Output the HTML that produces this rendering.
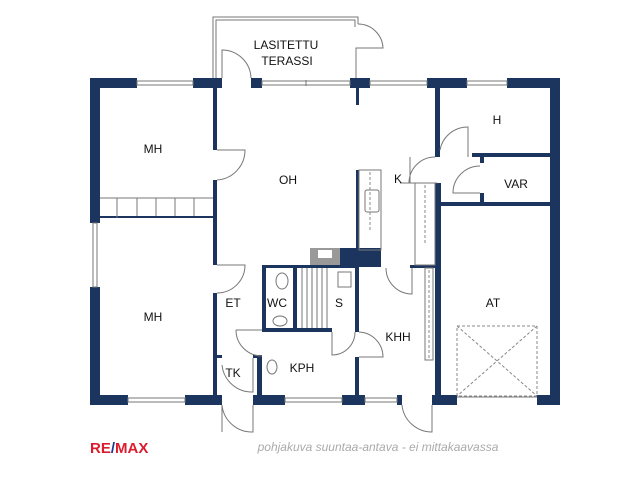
<!DOCTYPE html>
<html><head><style>body{margin:0;background:#fff}svg{display:block}</style></head><body>
<svg width="640" height="480" viewBox="0 0 640 480" xmlns="http://www.w3.org/2000/svg" font-family="Liberation Sans, sans-serif">
<g fill="#1b355f">
<rect x="90" y="78" width="47" height="10"/>
<rect x="193" y="78" width="29" height="10"/>
<rect x="251" y="78" width="11" height="10"/>
<rect x="350" y="78" width="20" height="10"/>
<rect x="427" y="78" width="40" height="10"/>
<rect x="507" y="78" width="53" height="10"/>
<rect x="90" y="78" width="10" height="145"/>
<rect x="90" y="287" width="10" height="118"/>
<rect x="550" y="78" width="10" height="327"/>
<rect x="90" y="395" width="38" height="10"/>
<rect x="185" y="395" width="37" height="10"/>
<rect x="253" y="395" width="32" height="10"/>
<rect x="342" y="395" width="23" height="10"/>
<rect x="397" y="395" width="5" height="10"/>
<rect x="432" y="395" width="25" height="10"/>
<rect x="537" y="395" width="23" height="10"/>
<rect x="213" y="88" width="4" height="62"/>
<rect x="213" y="180" width="4" height="85"/>
<rect x="213" y="293" width="4" height="102"/>
<rect x="356" y="88" width="3" height="17"/>
<rect x="435" y="88" width="5" height="69"/>
<rect x="435" y="183" width="6" height="212"/>
<rect x="472" y="153" width="78" height="4"/>
<rect x="480" y="153" width="4" height="10"/>
<rect x="480" y="193" width="4" height="10"/>
<rect x="440" y="202" width="110" height="4"/>
<rect x="356" y="170" width="3" height="80"/>
<rect x="340" y="248" width="41" height="19"/>
<rect x="262" y="265" width="95" height="3"/>
<rect x="262" y="265" width="4" height="67"/>
<rect x="293" y="265" width="4" height="67"/>
<rect x="262" y="328" width="70" height="4"/>
<rect x="355" y="265" width="4" height="67"/>
<rect x="355" y="357" width="4" height="38"/>
<rect x="410" y="265" width="30" height="3"/>
<rect x="213" y="355" width="9" height="3"/>
<rect x="253" y="355" width="9" height="3"/>
<rect x="257" y="355" width="5" height="40"/>
<rect x="100" y="216" width="113" height="2"/>
</g>
<g fill="none" stroke="#777" stroke-width="1">
<rect x="137" y="81" width="56" height="4"/>
<rect x="262" y="81" width="88" height="4"/><line x1="306" y1="80" x2="306" y2="86"/>
<rect x="370" y="81" width="57" height="4"/>
<rect x="467" y="81" width="40" height="4"/>
<rect x="93" y="223" width="4" height="64"/>
<rect x="128" y="398" width="57" height="4"/>
<rect x="285" y="398" width="57" height="4"/>
<rect x="365" y="398" width="32" height="4"/>
<line x1="457" y1="397" x2="537" y2="397"/>
<path d="M213 78 V17 H358 V24 M216 78 V20 H355 V27"/>
<path d="M358 24 A25 25 0 0 1 383 48 H356 V78"/>
<path d="M222 78 V50 A29 29 0 0 1 251 78"/>
<path d="M217 150 H245 A30 30 0 0 1 217 180"/>
<path d="M217 265 H245 A28 28 0 0 1 217 293"/>
<path d="M410 157 V183 H400 M437 183 H409 A26 26 0 0 1 435 157"/>
<path d="M468 157 V135 M440 150 A28 28 0 0 1 468 127 V153"/>
<path d="M480 193 H453 A27 27 0 0 1 480 166"/>
<path d="M412 268 V294 A26 26 0 0 1 386 268"/>
<path d="M332 332 V355 A23 23 0 0 0 355 332"/>
<path d="M359 332 A25 25 0 0 1 383 357 H359"/>
<path d="M236 330 H262 M236 330 A26 26 0 0 0 262 356"/>
<path d="M222 365 A30 30 0 0 0 253 392 V358"/>
<path d="M222 405 V432 M222 405 A30 30 0 0 0 253 432 V405"/>
<path d="M402 405 A30 30 0 0 0 432 432 V405"/>
<path d="M100 198 H213 M117 198 V218 M137 198 V216 M156 198 V216 M175 198 V216 M194 198 V216"/>
<rect x="359" y="170" width="22" height="80"/>
<rect x="415" y="183" width="20" height="82"/>
<rect x="425" y="268" width="8" height="92"/>
<rect x="365" y="190" width="14" height="22" rx="2"/>
<path d="M302 268 V328 M307 268 V328 M312 268 V328 M317 268 V328 M322 268 V328 M327 268 V328"/>
<rect x="338" y="272" width="13" height="15"/>
<ellipse cx="282" cy="281" rx="6" ry="8"/>
<ellipse cx="280" cy="321" rx="7" ry="5"/>
<ellipse cx="272" cy="367" rx="5" ry="7"/>
</g>
<g stroke="#888" stroke-dasharray="3,2" fill="none">
<line x1="370" y1="172" x2="370" y2="230"/><line x1="425" y1="185" x2="425" y2="245"/><line x1="429" y1="270" x2="429" y2="358"/>
<rect x="457" y="326" width="80" height="70"/><line x1="457" y1="326" x2="537" y2="396"/><line x1="537" y1="326" x2="457" y2="396"/>
</g>
<rect x="310" y="248" width="30" height="17" fill="#999"/><rect x="318" y="250" width="14" height="8" fill="#fff"/>
<g font-size="12" fill="#111" text-anchor="middle">
<text x="286" y="49">LASITETTU</text><text x="287" y="65">TERASSI</text>
<text x="153" y="153">MH</text><text x="288" y="184">OH</text><text x="497" y="124">H</text>
<text x="398" y="183">K</text><text x="516" y="188">VAR</text><text x="153" y="321">MH</text>
<text x="233" y="307">ET</text><text x="277" y="307">WC</text><text x="339" y="307">S</text>
<text x="398" y="341">KHH</text><text x="493" y="307">AT</text><text x="233" y="377">TK</text><text x="302" y="372">KPH</text>
</g>
<text x="378" y="451" font-size="12" font-style="italic" fill="#aaa" text-anchor="middle">pohjakuva suuntaa-antava - ei mittakaavassa</text>
<text x="90" y="453" font-size="15" font-weight="bold" fill="#dc1c2e">RE<tspan fill="#1b3a8c">/</tspan>MAX</text>
</svg>
</body></html>
